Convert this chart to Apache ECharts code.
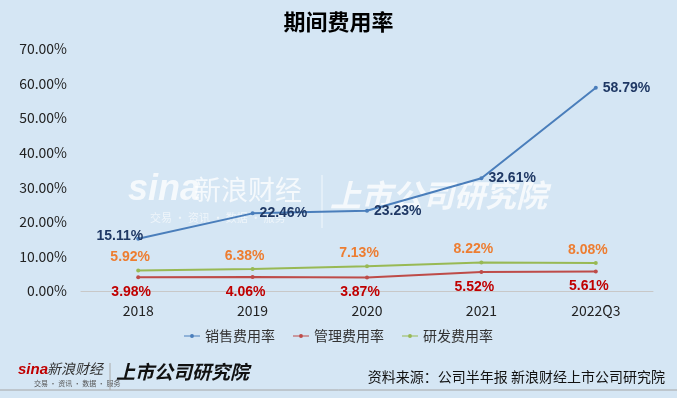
<!DOCTYPE html>
<html>
<head>
<meta charset="utf-8">
<script src="https://cdn.jsdelivr.net/npm/echarts@6/dist/echarts.min.js"></script>
<style>
html, body { margin: 0; padding: 0; background: #d5e6f4; }
#chart { width: 677px; height: 398px; }
</style>
</head>
<body>
<div id="chart"></div>
<script>
var years = ['2018', '2019', '2020', '2021', '2022Q3'];
var sellRate = [15.11, 22.46, 23.23, 32.61, 58.79];
var mgmtRate = [3.98, 4.06, 3.87, 5.52, 5.61];
var rdRate = [5.92, 6.38, 7.13, 8.22, 8.08];
var seriesNames = ['销售费用率', '管理费用率', '研发费用率'];

var cjk = '"Noto Sans CJK SC", sans-serif';
var myChart = echarts.init(document.getElementById('chart'));

function pct(p) {
	return p.value.toFixed(2) + '%';
}

var option = {
	backgroundColor: '#d5e6f4',
	title: {
		text: '期间费用率',
		left: 'center',
		top: 6,
		textStyle: { color: '#000', fontSize: 22, fontWeight: 'bold', fontFamily: cjk }
	},
	legend: {
		bottom: 50,
		left: 'center',
		itemWidth: 16,
		itemHeight: 6,
		itemGap: 18,
		icon: 'path://M0,2.5 L16,2.5 L16,3.5 L0,3.5 Z M8,1 A2,2 0 1 1 7.99,1 Z',
		textStyle: { color: '#333', fontSize: 14, fontFamily: cjk },
		data: seriesNames
	},
	grid: { left: 81, right: 24, top: 49, bottom: 107 },
	xAxis: {
		type: 'category',
		data: years,
		axisLine: { lineStyle: { color: '#c8c8c8' } },
		axisTick: { show: false },
		axisLabel: { color: '#222', fontSize: 14, margin: 13, fontFamily: cjk }
	},
	yAxis: {
		type: 'value',
		min: 0,
		max: 70,
		interval: 10,
		axisLine: { show: false },
		axisTick: { show: false },
		splitLine: { show: false },
		axisLabel: {
			color: '#222', fontSize: 14, margin: 14, fontFamily: cjk,
			formatter: function (v) { return v.toFixed(2) + '%'; }
		}
	},
	graphic: [
		{ type: 'text', left: 128, top: 172, silent: true,
		  style: { text: 'sina', fill: 'rgba(255,255,255,0.75)', font: 'italic bold 36px sans-serif' } },
		{ type: 'text', left: 194, top: 176, silent: true,
		  style: { text: '新浪财经', fill: 'rgba(255,255,255,0.75)', font: '27px ' + cjk } },
		{ type: 'text', left: 150, top: 212, silent: true,
		  style: { text: '交易 · 资讯 · 数据 · 服务', fill: 'rgba(255,255,255,0.6)', font: '11px ' + cjk } },
		{ type: 'line', silent: true, shape: { x1: 322, y1: 175, x2: 322, y2: 228 },
		  style: { stroke: 'rgba(255,255,255,0.7)', lineWidth: 1 } },
		{ type: 'text', left: 330, top: 180, silent: true,
		  style: { text: '上市公司研究院', fill: 'rgba(255,255,255,0.75)', font: 'italic bold 31px ' + cjk } },
		{ type: 'text', left: 18, top: 362, silent: true,
		  style: { text: 'sina', fill: '#c00000', font: 'italic bold 15px sans-serif' } },
		{ type: 'text', left: 47, top: 362, silent: true,
		  style: { text: '新浪财经', fill: '#333', font: 'italic 14px ' + cjk } },
		{ type: 'text', left: 34, top: 380, silent: true,
		  style: { text: '交易 · 资讯 · 数据 · 服务', fill: '#555', font: '7px ' + cjk } },
		{ type: 'line', silent: true, shape: { x1: 110, y1: 363, x2: 110, y2: 390 },
		  style: { stroke: '#aaa', lineWidth: 1 } },
		{ type: 'text', left: 116, top: 362, silent: true,
		  style: { text: '上市公司研究院', fill: '#111', font: 'italic bold 19px ' + cjk } },
		{ type: 'text', right: 12, top: 370, silent: true,
		  style: { text: '资料来源：公司半年报 新浪财经上市公司研究院', fill: '#111', font: '14px ' + cjk } },
		{ type: 'line', silent: true, shape: { x1: 0, y1: 390, x2: 677, y2: 390 },
		  style: { stroke: '#a6a6a6', lineWidth: 1 } }
	],
	series: [
		{
			name: seriesNames[0],
			type: 'line',
			data: sellRate,
			symbol: 'circle',
			symbolSize: 4,
			lineStyle: { color: '#4a7ebb', width: 2 },
			itemStyle: { color: '#4a7ebb' },
			label: {
				show: true,
				position: 'right',
				color: '#1f3864',
				fontSize: 14,
				fontWeight: 'bold',
				formatter: pct
			},
			labelLayout: function (p) {
				if (p.dataIndex === 0) {
					return { x: p.rect.x - p.labelRect.width + 7, y: p.labelRect.y - 3 };
				}
				return {};
			}
		},
		{
			name: seriesNames[1],
			type: 'line',
			data: mgmtRate,
			symbol: 'circle',
			symbolSize: 4,
			lineStyle: { color: '#be4b48', width: 2 },
			itemStyle: { color: '#be4b48' },
			label: {
				show: true,
				position: 'bottom',
				distance: 6,
				offset: [-7, 0],
				color: '#c00000',
				fontSize: 14,
				fontWeight: 'bold',
				formatter: pct
			}
		},
		{
			name: seriesNames[2],
			type: 'line',
			data: rdRate,
			symbol: 'circle',
			symbolSize: 4,
			lineStyle: { color: '#98b954', width: 2 },
			itemStyle: { color: '#98b954' },
			label: {
				show: true,
				position: 'top',
				distance: 4,
				offset: [-8, 0],
				color: '#ed7d31',
				fontSize: 14,
				fontWeight: 'bold',
				formatter: pct
			}
		}
	]
};
myChart.setOption(option);
</script>
</body>
</html>
